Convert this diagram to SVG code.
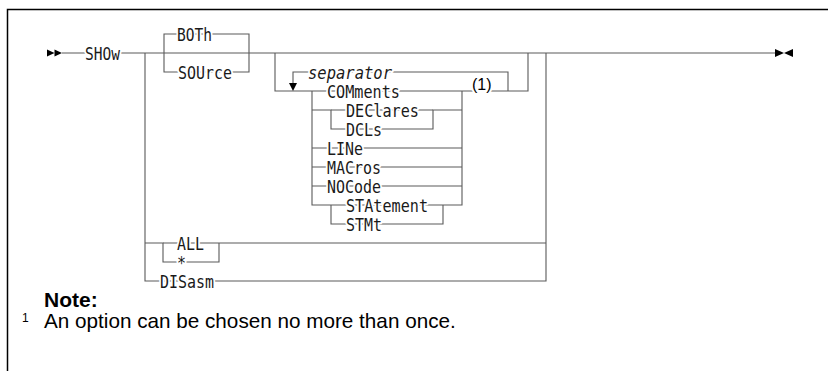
<svg xmlns="http://www.w3.org/2000/svg" width="828" height="371" viewBox="0 0 828 371">
<style>
.ln{fill:none;stroke:#5a5a5a;stroke-width:1.1}
.kw{font-family:"DejaVu Sans Mono",monospace;font-size:17px;fill:#1a1a1a;stroke:#fff;stroke-width:4;paint-order:stroke;stroke-linejoin:round}
.it{font-style:italic}
.fn{font-family:"Liberation Sans",Arial,sans-serif;fill:#000}
.ah{fill:#000}
</style>
<rect width="828" height="371" fill="#fff"/>
<path d="M7.5,371 V9.5 H828" fill="none" stroke="#000" stroke-width="1.5"/>
<g id="connectors">
<path class="ln" d="M62,53 H775"/>
<path class="ln" d="M164,53 V34 H249 V53"/>
<path class="ln" d="M164,53 V72 H249 V53"/>
<path class="ln" d="M145,53 V281 H546 V53"/>
<path class="ln" d="M145,243 H163 V262 H219 V243"/>
<path class="ln" d="M163,243 H546"/>
<path class="ln" d="M275,53 V91 H528 V53"/>
<path class="ln" d="M293,84 V72 H508 V91"/>
<path class="ln" d="M312,91 V205 H331"/>
<path class="ln" d="M462,91 V205 H331"/>
<path class="ln" d="M312,110 H331 V129 H433 V110 H462"/>
<path class="ln" d="M331,110 H433"/>
<path class="ln" d="M312,148 H462 M312,167 H462 M312,186 H462"/>
<path class="ln" d="M331,205 V224 H443 V205"/>
<polygon class="ah" points="289,83 297,83 293,91"/>
<polygon class="ah" points="47,49.5 54.5,53 47,56.5"/>
<polygon class="ah" points="54.5,49.5 62,53 54.5,56.5"/>
<polygon class="ah" points="775,49 784,53 775,57"/>
<polygon class="ah" points="793,49 784,53 793,57"/>
</g>
<g id="n-show"><text class="kw" x="85" y="59.5" textLength="35" lengthAdjust="spacingAndGlyphs">SHOw</text></g>
<g id="n-both"><text class="kw" x="177" y="40.5" textLength="35" lengthAdjust="spacingAndGlyphs">BOTh</text></g>
<g id="n-source"><text class="kw" x="178" y="78.5" textLength="54" lengthAdjust="spacingAndGlyphs">SOUrce</text></g>
<g id="n-separator"><text class="kw it" x="308" y="78.5" textLength="84" lengthAdjust="spacingAndGlyphs">separator</text></g>
<g id="n-comments"><text class="kw" x="327" y="97.5" textLength="73" lengthAdjust="spacingAndGlyphs">COMments</text></g>
<g id="n-note1"><text class="fn" x="472" y="89.5" font-size="16" stroke="#fff" stroke-width="4" paint-order="stroke">(1)</text></g>
<g id="n-declares"><text class="kw" x="346" y="116.5" textLength="73" lengthAdjust="spacingAndGlyphs">DEClares</text></g>
<g id="n-dcls"><text class="kw" x="346" y="135.5" textLength="36" lengthAdjust="spacingAndGlyphs">DCLs</text></g>
<g id="n-line"><text class="kw" x="327" y="154.5" textLength="36" lengthAdjust="spacingAndGlyphs">LINe</text></g>
<g id="n-macros"><text class="kw" x="327" y="173.5" textLength="54" lengthAdjust="spacingAndGlyphs">MACros</text></g>
<g id="n-nocode"><text class="kw" x="327" y="192.5" textLength="54" lengthAdjust="spacingAndGlyphs">NOCode</text></g>
<g id="n-statement"><text class="kw" x="346" y="211.5" textLength="82" lengthAdjust="spacingAndGlyphs">STAtement</text></g>
<g id="n-stmt"><text class="kw" x="346" y="230.5" textLength="36" lengthAdjust="spacingAndGlyphs">STMt</text></g>
<g id="n-all"><text class="kw" x="177" y="249.5" textLength="27" lengthAdjust="spacingAndGlyphs">ALL</text></g>
<g id="n-star"><text class="kw" x="177" y="268.5" textLength="9" lengthAdjust="spacingAndGlyphs">*</text></g>
<g id="n-disasm"><text class="kw" x="160" y="287.5" textLength="54" lengthAdjust="spacingAndGlyphs">DISasm</text></g>
<g id="note">
<text class="fn" x="44" y="307" font-size="21" font-weight="bold">Note:</text>
<text class="fn" x="22" y="322" font-size="12">1</text>
<text class="fn" x="44" y="328" font-size="20.7">An option can be chosen no more than once.</text>
</g>
</svg>
